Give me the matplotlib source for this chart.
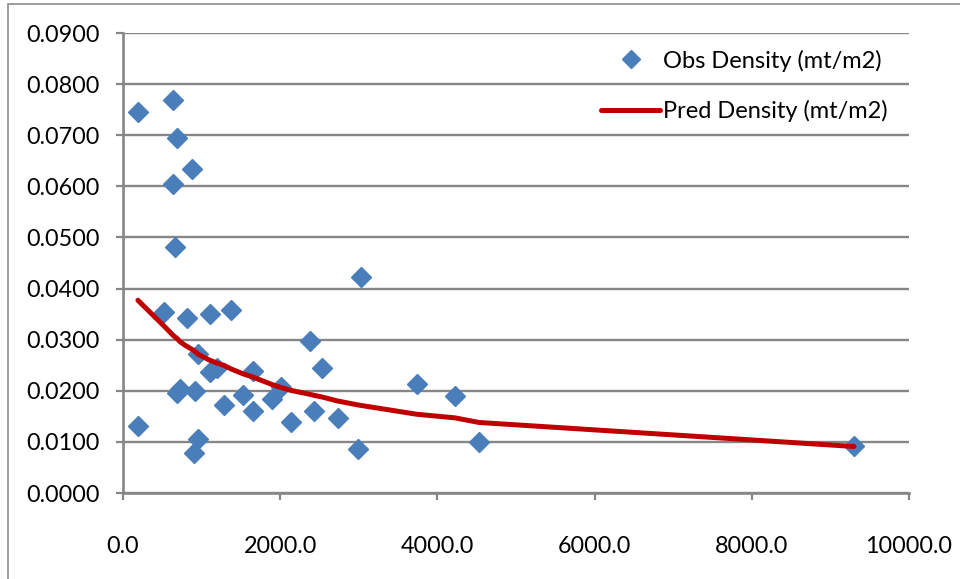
import matplotlib
matplotlib.use("Agg")
import matplotlib.pyplot as plt
from matplotlib.patches import Rectangle
from matplotlib.ticker import FormatStrFormatter, MultipleLocator

# ---------------------------------------------------------------------
# Data
# ---------------------------------------------------------------------
OBS_X = [190, 640, 687, 874, 632, 660, 3024, 525, 816, 1105, 1375,
         2382, 950, 2527, 1653, 1107, 1192, 3742, 2005, 725, 683,
         914, 1530, 4225, 1898, 1280, 1651, 2433, 2732, 2134, 187,
         950, 4530, 2990, 906, 9298]
OBS_Y = [0.0746, 0.0769, 0.0695, 0.0633, 0.0605, 0.0482, 0.0422, 0.0355,
         0.0343, 0.0350, 0.0359, 0.0297, 0.0272, 0.0244, 0.0239, 0.0237,
         0.0244, 0.0214, 0.0208, 0.0203, 0.0195, 0.0200, 0.0191, 0.0189,
         0.0183, 0.0172, 0.0160, 0.0161, 0.0147, 0.0139, 0.0132, 0.0105,
         0.0099, 0.0086, 0.0078, 0.0092]

PRED_X = [190, 520, 640, 690, 725, 790, 910, 950, 1100, 1200, 1280, 1370,
          1530, 1650, 1900, 2000, 2130, 2380, 2430, 2530, 2730, 3000,
          3740, 4225, 4530, 9300]
PRED_Y = [0.0377, 0.0327, 0.0308, 0.0302, 0.0296, 0.0289, 0.0278, 0.0272,
          0.0260, 0.0254, 0.0250, 0.0243, 0.0233, 0.0227, 0.0212, 0.0207,
          0.0201, 0.0193, 0.0191, 0.0188, 0.0180, 0.0172, 0.0154, 0.0147,
          0.0138, 0.0091]

OBS_LABEL = "Obs Density (mt/m2)"
PRED_LABEL = "Pred Density (mt/m2)"

GRID = "#868686"
BLUE = "#4A7EBB"
RED = "#C00000"

plt.rcParams["font.family"] = ["Lato", "DejaVu Sans"]

fig = plt.figure(figsize=(9.6, 5.79), dpi=100)
ax = fig.add_axes([123 / 960, 1 - 493 / 579, (909 - 123) / 960, (493 - 33) / 579])

# chart-area border
fig.patches.append(Rectangle((8 / 960, -0.01), 1.0, 1 - 4 / 579 + 0.01,
                             transform=fig.transFigure, fill=False,
                             edgecolor="#8C8C8C", linewidth=1.2))

ax.plot(OBS_X, OBS_Y, linestyle="none", marker="D", markersize=10.5,
        color=BLUE, markeredgecolor=BLUE, label=OBS_LABEL, zorder=3)
ax.plot(PRED_X, PRED_Y, color=RED, linewidth=3.6, label=PRED_LABEL,
        solid_capstyle="round", zorder=4)

ax.set_xlim(0, 10000)
ax.set_ylim(0, 0.09)
ax.xaxis.set_major_locator(MultipleLocator(2000))
ax.yaxis.set_major_locator(MultipleLocator(0.01))
ax.xaxis.set_major_formatter(FormatStrFormatter("%.1f"))
ax.yaxis.set_major_formatter(FormatStrFormatter("%.4f"))

ax.grid(axis="y", color=GRID, linewidth=1.7)
ax.set_axisbelow(True)
for side in ("top", "right"):
    ax.spines[side].set_visible(False)
for side in ("left", "bottom"):
    ax.spines[side].set_color(GRID)
    ax.spines[side].set_linewidth(1.9)

ax.tick_params(axis="x", direction="out", length=5, width=1.6, color=GRID,
               pad=26, labelsize=16.8, labelcolor="black")
ax.tick_params(axis="y", direction="out", length=5, width=1.6, color=GRID,
               pad=12, labelsize=16.8, labelcolor="black")

ax.legend(loc="upper right", bbox_to_anchor=(1.0, 1.01), frameon=False,
          fontsize=17, handlelength=2.5, handletextpad=0.12,
          labelspacing=1.2, numpoints=1, markerscale=0.85)

fig.savefig("out.png", dpi=100)
